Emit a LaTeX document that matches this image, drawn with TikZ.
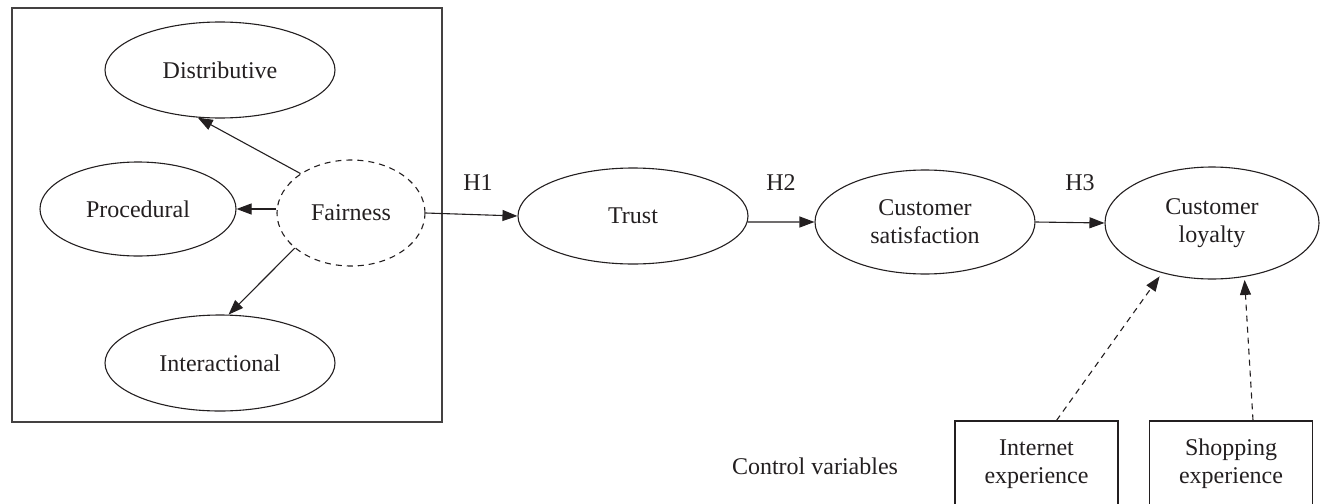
\documentclass[tikz,border=0pt]{standalone}
\usepackage{fontspec}
\setmainfont{Liberation Serif}
\usetikzlibrary{shapes.geometric,arrows.meta,calc}
\definecolor{ink}{HTML}{231F20}
\begin{document}
\begin{tikzpicture}[x=1pt,y=-1pt,
  every node/.style={font=\fontsize{24}{28}\selectfont, text=ink},
  latent/.style={ellipse, draw=ink, line width=1.1pt, inner sep=0pt, align=center},
  ctrlbox/.style={rectangle, draw=ink, line width=1.1pt, inner sep=0pt, align=center,
                  minimum width=163pt, minimum height=86pt},
  frame/.style={rectangle, draw=ink!85, line width=1.2pt, inner sep=0pt},
  link/.style={draw=ink, line width=1.1pt, -{Triangle[length=15pt,width=11pt]}},
  dlink/.style={link, dash pattern=on 6pt off 5pt}]
\useasboundingbox (0,0) rectangle (1321,503);
\clip (0,0) rectangle (1321,503);

% fairness block
\node[frame, minimum width=430pt, minimum height=414pt] (block) at (227,215) {};
\node[latent, minimum width=230pt, minimum height=96pt] (dist) at (220,70) {Distributive};
\node[latent, minimum width=196pt, minimum height=94pt] (proc) at (138,209) {Procedural};
\node[latent, dash pattern=on 6pt off 5pt, minimum width=148pt, minimum height=106pt] (fair) at (351,213) {Fairness};
\node[latent, minimum width=230pt, minimum height=96pt] (inter) at (220,363) {Interactional};

% main chain
\node[latent, minimum width=230pt, minimum height=96pt] (trust) at (633,216) {Trust};
\node[latent, minimum width=220pt, minimum height=104pt] (sat) at (925,222) {Customer\\satisfaction};
\node[latent, minimum width=214pt, minimum height=112pt] (loyal) at (1212,223) {Customer\\loyalty};

% hypothesis labels
\node (h1) at (478,183) {H1};
\node (h2) at (781,183) {H2};
\node (h3) at (1080,183) {H3};

% control variables (boxes run past the lower edge)
\node (ctrl) at (815,466) {Control variables};
\node[ctrlbox] (inet) at (1036.5,464) {Internet\\experience};
\node[ctrlbox] (shop) at (1231,464) {Shopping\\experience};

% connectors
\draw[link] (fair.142) -- (dist.245);
\draw[link] (fair.west |- proc.east) -- (proc.east);
\draw[link] (fair.212.7) -- (inter.80.7);
\draw[link] (fair.east) -- (trust.west);
\draw[link] (trust.-3) -- (sat.west);
\draw[link] (sat.east) -- (loyal.west);
\draw[dlink, shorten >=4pt] ($(inet.north)+(20,0)$) -- (loyal.225);
\draw[dlink, shorten >=3pt] ($(shop.north)+(22,0)$) -- (loyal.-59);
\end{tikzpicture}
\end{document}
